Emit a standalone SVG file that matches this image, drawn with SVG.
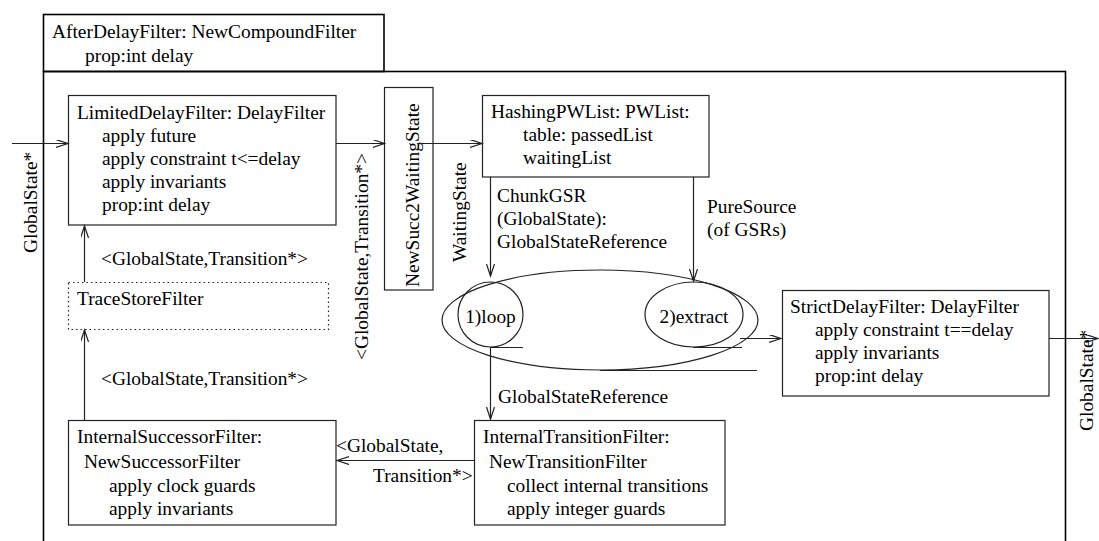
<svg xmlns="http://www.w3.org/2000/svg" width="1099" height="541" viewBox="0 0 1099 541">
<defs>
<style>
text{font-family:"Liberation Serif","Times New Roman",serif;font-size:19.4px;fill:#000}
.box{fill:#fff;stroke:#222;stroke-width:1.2}
.outer{fill:none;stroke:#000;stroke-width:1.6}
.ln{fill:none;stroke:#222;stroke-width:1.2}
.dot{fill:#fff;stroke:#222;stroke-width:1.2;stroke-dasharray:1.5 3}
.ell{fill:none;stroke:#222;stroke-width:1.2}
</style>
<marker id="ah" markerUnits="userSpaceOnUse" markerWidth="14" markerHeight="10" refX="12" refY="4" orient="auto" viewBox="0 0 14 10">
<path d="M0,0 L12,4 L0,8" fill="none" stroke="#222" stroke-width="1.2"/>
</marker>
</defs>
<rect width="1099" height="541" fill="#fff"/>

<g id="afterDelayFilter">
<rect class="outer" x="43.5" y="71.5" width="1022" height="480"/>
<rect class="outer" x="43.5" y="14.5" width="340.5" height="57"/>
<text x="52" y="38">AfterDelayFilter: NewCompoundFilter</text>
<text x="85" y="62">prop:int delay</text>
</g>

<g id="limitedDelayFilter">
<rect class="box" x="68.5" y="95.5" width="267.5" height="129.5"/>
<text x="77" y="119">LimitedDelayFilter: DelayFilter</text>
<text x="102" y="142">apply future</text>
<text x="102" y="165">apply constraint t&lt;=delay</text>
<text x="102" y="188">apply invariants</text>
<text x="102" y="211">prop:int delay</text>
</g>

<g id="newSucc2WaitingState">
<rect class="box" x="384.5" y="87.5" width="48.5" height="202.5"/>
<text transform="translate(419,287) rotate(-90)">NewSucc2WaitingState</text>
</g>

<g id="hashingPWList">
<rect class="box" x="482.5" y="95.5" width="226.5" height="81.5"/>
<text x="491" y="118">HashingPWList: PWList:</text>
<text x="523" y="141">table: passedList</text>
<text x="523" y="164">waitingList</text>
</g>

<g id="chunkContainer">
<ellipse class="ell" cx="600" cy="320" rx="158" ry="50"/>
</g>

<g id="loop">
<ellipse class="ell" cx="490.5" cy="314.5" rx="32.5" ry="32.5"/>
<text x="490.5" y="323" text-anchor="middle">1)loop</text>
</g>

<g id="extract">
<ellipse class="ell" cx="694" cy="314.5" rx="49" ry="32.5"/>
<text x="694" y="323" text-anchor="middle">2)extract</text>
</g>

<g id="strictDelayFilter">
<rect class="box" x="782.5" y="290.5" width="266.5" height="105.5"/>
<text x="790" y="313">StrictDelayFilter: DelayFilter</text>
<text x="815" y="336">apply constraint t==delay</text>
<text x="815" y="359">apply invariants</text>
<text x="815" y="382">prop:int delay</text>
</g>

<g id="traceStoreFilter">
<rect class="dot" x="68.5" y="282.5" width="260" height="47"/>
<text x="77" y="305">TraceStoreFilter</text>
</g>

<g id="internalSuccessorFilter">
<rect class="box" x="68.5" y="420.5" width="267.5" height="104.5"/>
<text x="77" y="443">InternalSuccessorFilter:</text>
<text x="84" y="468">NewSuccessorFilter</text>
<text x="109" y="492">apply clock guards</text>
<text x="109" y="515">apply invariants</text>
</g>

<g id="internalTransitionFilter">
<rect class="box" x="474.5" y="420.5" width="250.5" height="104.5"/>
<text x="483" y="443">InternalTransitionFilter:</text>
<text x="489" y="468">NewTransitionFilter</text>
<text x="507" y="492">collect internal transitions</text>
<text x="507" y="515">apply integer guards</text>
</g>

<g id="connectors">
<line class="ln" x1="12" y1="143.5" x2="68" y2="143.5" marker-end="url(#ah)"/>
<line class="ln" x1="336" y1="143.5" x2="384.5" y2="143.5" marker-end="url(#ah)"/>
<line class="ln" x1="417" y1="143.5" x2="482" y2="143.5" marker-end="url(#ah)"/>
<line class="ln" x1="490.5" y1="177" x2="490.5" y2="276" marker-end="url(#ah)"/>
<line class="ln" x1="693.5" y1="177" x2="693.5" y2="281" marker-end="url(#ah)"/>
<line class="ln" x1="490" y1="347.5" x2="523" y2="347.5"/>
<line class="ln" x1="490.5" y1="347" x2="490.5" y2="419" marker-end="url(#ah)"/>
<line class="ln" x1="693" y1="347.5" x2="742" y2="347.5"/>
<line class="ln" x1="740" y1="338.5" x2="781" y2="338.5" marker-end="url(#ah)"/>
<line class="ln" x1="600" y1="370.5" x2="757" y2="370.5"/>
<line class="ln" x1="1049" y1="338.5" x2="1098" y2="338.5" marker-end="url(#ah)"/>
<line class="ln" x1="474" y1="460.5" x2="337" y2="460.5" marker-end="url(#ah)"/>
<line class="ln" x1="84.5" y1="420" x2="84.5" y2="330" marker-end="url(#ah)"/>
<line class="ln" x1="84.5" y1="282" x2="84.5" y2="226" marker-end="url(#ah)"/>
<text transform="translate(37,253) rotate(-90)">GlobalState*</text>
<text transform="translate(368,360) rotate(-90)">&lt;GlobalState,Transition*&gt;</text>
<text transform="translate(466,262) rotate(-90)">WaitingState</text>
<text transform="translate(1093,431) rotate(-90)">GlobalState*</text>
<text x="497" y="202">ChunkGSR</text>
<text x="497" y="225">(GlobalState):</text>
<text x="497" y="248">GlobalStateReference</text>
<text x="707" y="213">PureSource</text>
<text x="707" y="236">(of GSRs)</text>
<text x="498" y="403">GlobalStateReference</text>
<text x="101" y="265">&lt;GlobalState,Transition*&gt;</text>
<text x="101" y="385">&lt;GlobalState,Transition*&gt;</text>
<text x="336" y="452">&lt;GlobalState,</text>
<text x="373" y="482">Transition*&gt;</text>
</g>
</svg>
